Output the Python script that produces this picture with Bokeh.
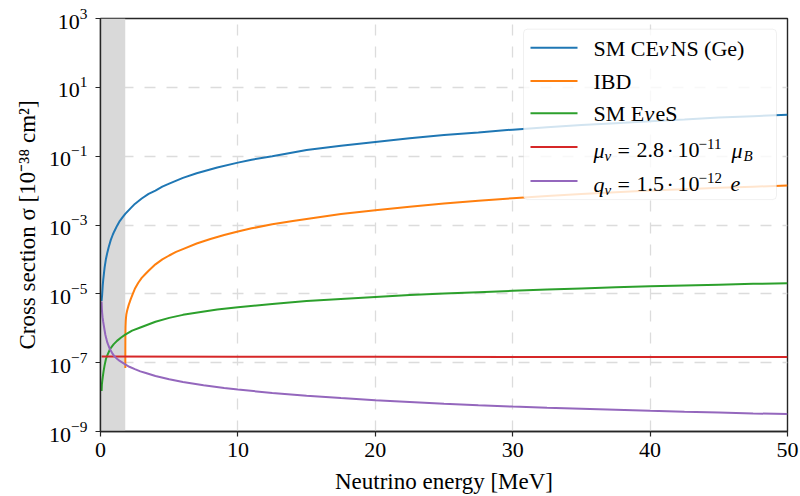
from bokeh.plotting import figure
from bokeh.models import FixedTicker, BoxAnnotation, Label, Arrow, LogTickFormatter
from bokeh.embed import file_html
from bokeh.resources import INLINE

# ---------------- data ----------------
E_cevns = [0.08, 0.12, 0.16, 0.2, 0.3, 0.4, 0.5, 0.6, 0.75, 0.9, 1.0, 1.2, 1.4, 1.6, 1.8,
           2.2, 2.5, 3.0, 3.5, 4.0, 4.5, 5.0, 6.0, 7.0, 8.5, 10, 11, 12.5, 15, 17.5, 20,
           22.5, 25, 27.5, 30, 32.5, 35, 37.5, 40, 42.5, 45, 47.5, 50]
s_cevns = [6.2e-6, 9.5e-6, 1.7e-5, 2.6e-5, 5.9e-5, 1.05e-4, 1.6e-4, 2.3e-4, 3.7e-4, 5.3e-4,
           6.5e-4, 9.4e-4, 1.3e-3, 1.66e-3, 2.1e-3, 3.1e-3, 4.1e-3, 5.9e-3, 8.0e-3, 1.0e-2,
           1.3e-2, 1.6e-2, 2.34e-2, 3.2e-2, 4.7e-2, 6.5e-2, 7.9e-2, 0.10, 0.15, 0.20, 0.26,
           0.33, 0.41, 0.49, 0.59, 0.69, 0.80, 0.91, 1.04, 1.17, 1.32, 1.45, 1.6]

E_ibd = [1.806, 1.807, 1.808, 1.81, 1.812, 1.816, 1.82, 1.83, 1.84, 1.86, 1.88, 1.92, 1.95,
         2.0, 2.05, 2.1, 2.2, 2.35, 2.5, 2.75, 3.0, 3.25, 3.5, 4.0, 4.5, 5.0, 5.5, 6.0, 7.0,
         8.0, 9.0, 10, 11, 12.5, 14, 15, 17.5, 20, 22.5, 25, 27.5, 30, 32.5, 35, 37.5, 40,
         42.5, 45, 47.5, 50]
s_ibd = [7.0e-8, 1.5e-7, 2.5e-7, 4.0e-7, 6.0e-7, 8.5e-7, 1.1e-6, 1.4e-6, 1.7e-6, 2.1e-6,
         2.5e-6, 3.0e-6, 3.4e-6, 4.0e-6, 4.7e-6, 5.4e-6, 7.0e-6, 1.0e-5, 1.4e-5, 2.1e-5,
         2.9e-5, 3.7e-5, 4.7e-5, 7.2e-5, 1.0e-4, 1.3e-4, 1.65e-4, 2.0e-4, 2.9e-4, 3.9e-4,
         5.1e-4, 6.5e-4, 8.0e-4, 1.05e-3, 1.3e-3, 1.5e-3, 2.1e-3, 2.7e-3, 3.4e-3, 4.2e-3,
         5.1e-3, 6.0e-3, 7.0e-3, 8.0e-3, 9.0e-3, 1.0e-2, 1.1e-2, 1.2e-2, 1.3e-2, 1.4e-2]

E_eves = [0.08, 0.1, 0.13, 0.17, 0.22, 0.3, 0.4, 0.5, 0.7, 0.95, 1.2, 1.5, 1.8, 2.3, 2.9,
          4.0, 5.0, 6.0, 7.3, 8.5, 10, 12.5, 15, 17.5, 20, 22.5, 25, 27.5, 30, 32.5, 35,
          37.5, 40, 42.5, 45, 47.5, 50]
s_eves = [1.5e-8, 2.3e-8, 3.0e-8, 4.0e-8, 5.5e-8, 8.5e-8, 1.3e-7, 1.65e-7, 2.5e-7, 3.4e-7,
          4.3e-7, 5.4e-7, 6.5e-7, 8.5e-7, 1.05e-6, 1.55e-6, 2.0e-6, 2.45e-6, 2.95e-6, 3.5e-6,
          4.1e-6, 5.1e-6, 6.2e-6, 7.1e-6, 8.1e-6, 9.2e-6, 1.02e-5, 1.12e-5, 1.22e-5, 1.33e-5,
          1.44e-5, 1.55e-5, 1.65e-5, 1.75e-5, 1.85e-5, 1.95e-5, 2.04e-5]

E_mu = [0.08, 10, 20, 30, 40, 50]
s_mu = [1.5e-7, 1.49e-7, 1.48e-7, 1.47e-7, 1.46e-7, 1.46e-7]

E_q = [0.08, 0.09, 0.1, 0.12, 0.15, 0.19, 0.24, 0.3, 0.35, 0.42, 0.5, 0.6, 0.7, 0.85, 1.0,
       1.2, 1.4, 1.6, 1.8, 2.1, 2.5, 2.9, 3.3, 4.0, 5.0, 6.0, 7.5, 9.0, 10, 12.5, 15, 17.5,
       20, 22.5, 25, 27.5, 30, 32.5, 35, 37.5, 40, 42.5, 45, 47.5, 50]
s_q = [6.0e-6, 4.6e-6, 3.6e-6, 2.8e-6, 2.1e-6, 1.6e-6, 1.2e-6, 8.6e-7, 6.6e-7, 5.0e-7,
       3.8e-7, 3.0e-7, 2.4e-7, 1.9e-7, 1.55e-7, 1.3e-7, 1.12e-7, 1.0e-7, 8.9e-8, 7.6e-8,
       6.5e-8, 5.6e-8, 5.0e-8, 4.1e-8, 3.3e-8, 2.75e-8, 2.2e-8, 1.83e-8, 1.65e-8, 1.32e-8,
       1.1e-8, 9.4e-9, 8.1e-9, 7.2e-9, 6.4e-9, 5.8e-9, 5.3e-9, 4.9e-9, 4.6e-9, 4.3e-9,
       4.0e-9, 3.75e-9, 3.55e-9, 3.35e-9, 3.2e-9]

x_ticks = [0, 10, 20, 30, 40, 50]
y_ticks = [1e-9, 1e-7, 1e-5, 1e-3, 1e-1, 1e1, 1e3]
threshold_band = (0.0, 1.8)

colors = ["#1f77b4", "#ff7f0e", "#2ca02c", "#d62728", "#9467bd"]

FONT = "Liberation Serif"

# ---------------- figure ----------------
p = figure(width=800, height=496, x_range=(0, 50), y_range=(1e-9, 1e3),
           y_axis_type="log", output_backend="svg", toolbar_location=None,
           min_border_left=100, min_border_right=13, min_border_top=18,
           min_border_bottom=63)
p.background_fill_color = "white"
p.border_fill_color = "white"
p.outline_line_color = "#262626"
p.outline_line_width = 1.4

p.xaxis.ticker = FixedTicker(ticks=x_ticks)
p.yaxis.ticker = FixedTicker(ticks=y_ticks)
p.yaxis.formatter = LogTickFormatter()

for ax in (p.xaxis[0], p.yaxis[0]):
    ax.axis_line_color = "#262626"
    ax.axis_line_width = 1.4
    ax.major_tick_line_color = "#262626"
    ax.major_tick_line_width = 1.2
    ax.major_tick_out = 5
    ax.major_tick_in = 0
    ax.minor_tick_line_color = None
    ax.major_label_text_font = FONT
    ax.major_label_text_font_size = "22px"
    ax.major_label_text_color = "black"
    ax.axis_label_text_font = FONT
    ax.axis_label_text_font_size = "23px"
    ax.axis_label_text_font_style = "normal"
    ax.axis_label_text_color = "black"

p.xaxis.axis_label = "Neutrino energy [MeV]"
p.yaxis.axis_label = "Cross section σ [10⁻³⁸ cm²]"
p.xaxis.major_label_standoff = 6
p.xaxis.axis_label_standoff = 9
p.yaxis.major_label_standoff = 8
p.yaxis.axis_label_standoff = 6

for g in (p.xgrid[0], p.ygrid[0]):
    g.grid_line_color = "#dcdcdc"
    g.grid_line_width = 1.3
    g.grid_line_dash = "11 11"

band = BoxAnnotation(left=threshold_band[0], right=threshold_band[1],
                     fill_color="#d9d9d9", fill_alpha=1.0, line_alpha=0,
                     level="underlay")
p.add_layout(band)

series = [(E_cevns, s_cevns), (E_ibd, s_ibd), (E_eves, s_eves), (E_mu, s_mu), (E_q, s_q)]
for (xs, ys), c in zip(series, colors):
    p.line(xs, ys, line_color=c, line_width=2)

# ---------------- legend (drawn by hand so that sub/superscripts can be shown) ----------
X0, X1 = 0.0, 50.0
PX0, PX1 = 100.0, 787.0
PY_TOP, PY_BOT = 18.3, 432.7


def dx(px):
    return X0 + (px - PX0) * (X1 - X0) / (PX1 - PX0)


def dy(py):
    return 10 ** (3 - (py - PY_TOP) * 12.0 / (PY_BOT - PY_TOP))


legend_box = BoxAnnotation(left=dx(523), right=dx(776), top=dy(29), bottom=dy(200),
                           fill_color="white", fill_alpha=0.8, line_color="#cccccc",
                           line_width=1, border_radius=4)
p.add_layout(legend_box)

row_y = [47.7, 81.0, 113.3, 147.3, 181.3]
for ry, c in zip(row_y, colors):
    p.add_layout(Arrow(end=None, start=None, x_start=dx(530), x_end=dx(577),
                       y_start=dy(ry), y_end=dy(ry), line_color=c, line_width=2))


def piece(text, px, py, size=22, italic=False):
    p.add_layout(Label(x=dx(px), y=dy(py), text=text, text_font=FONT,
                       text_font_size=f"{size}px",
                       text_font_style="italic" if italic else "normal",
                       text_color="black", text_baseline="middle", text_align="left"))


# row 1
piece("SM CE", 593, 48.2)
piece("ν", 658, 48.2, italic=True)
piece("NS (Ge)", 670, 48.2)
# row 2
piece("IBD", 593, 81.5)
# row 3
piece("SM E", 593, 113.8)
piece("ν", 644, 113.8, italic=True)
piece("eS", 655, 113.8)
# row 4
m4 = 150.5
piece("μ", 593, m4, italic=True)
piece("ν", 604, m4 + 6, size=15, italic=True)
piece("=", 617, m4)
piece("2.8", 636, m4)
piece("·", 666, m4)
piece("10", 677, m4)
piece("−11", 698, m4 - 6, size=15)
piece("μ", 731, m4, italic=True)
piece("B", 743, m4 + 5.5, size=15, italic=True)
# row 5
m5 = 184.5
piece("q", 593, m5, italic=True)
piece("ν", 604, m5 + 6, size=15, italic=True)
piece("=", 617, m5)
piece("1.5", 636, m5)
piece("·", 666, m5)
piece("10", 677, m5)
piece("−12", 698, m5 - 6, size=15)
piece("e", 730, m5, italic=True)

open("out.html", "w").write(file_html(p, INLINE))
